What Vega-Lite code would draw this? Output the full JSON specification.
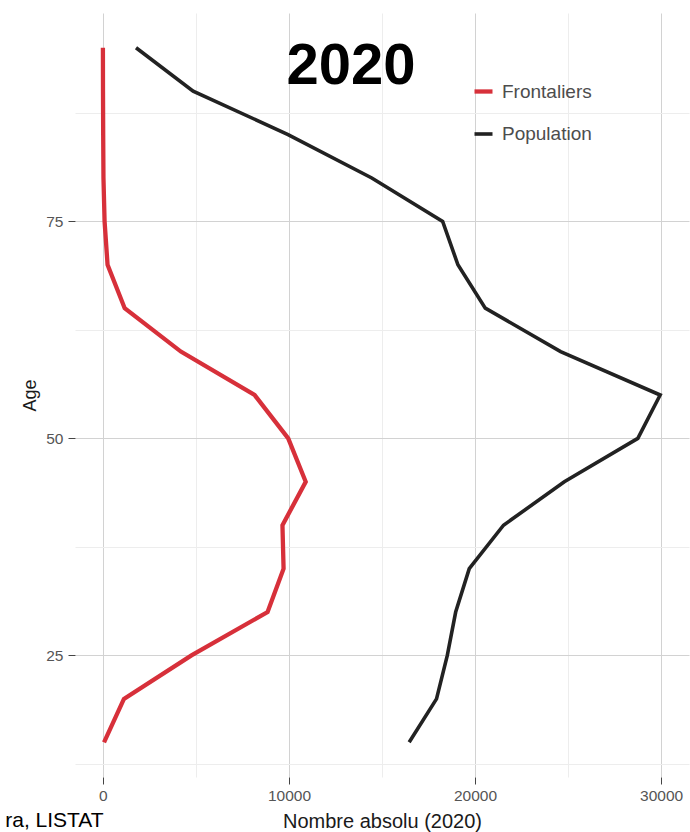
{
  "$schema": "https://vega.github.io/schema/vega-lite/v6.json",
  "width": 614,
  "height": 764,
  "autosize": {"type": "none"},
  "padding": {"left": 75, "top": 13, "right": 1, "bottom": 55},
  "background": "white",
  "config": {
    "view": {"stroke": null},
    "font": "Liberation Sans"
  },
  "datasets": {
    "series": [
      {"age": 15, "serie": "Frontaliers", "n": 60},
      {"age": 20, "serie": "Frontaliers", "n": 1130},
      {"age": 25, "serie": "Frontaliers", "n": 4760},
      {"age": 30, "serie": "Frontaliers", "n": 8850},
      {"age": 35, "serie": "Frontaliers", "n": 9710},
      {"age": 40, "serie": "Frontaliers", "n": 9650},
      {"age": 45, "serie": "Frontaliers", "n": 10900},
      {"age": 50, "serie": "Frontaliers", "n": 9960},
      {"age": 55, "serie": "Frontaliers", "n": 8150},
      {"age": 60, "serie": "Frontaliers", "n": 4190},
      {"age": 65, "serie": "Frontaliers", "n": 1170},
      {"age": 70, "serie": "Frontaliers", "n": 250},
      {"age": 75, "serie": "Frontaliers", "n": 90},
      {"age": 80, "serie": "Frontaliers", "n": 30},
      {"age": 85, "serie": "Frontaliers", "n": 15},
      {"age": 90, "serie": "Frontaliers", "n": 5},
      {"age": 95, "serie": "Frontaliers", "n": 0},
      {"age": 15, "serie": "Population", "n": 16460},
      {"age": 20, "serie": "Population", "n": 17930},
      {"age": 25, "serie": "Population", "n": 18510},
      {"age": 30, "serie": "Population", "n": 18960},
      {"age": 35, "serie": "Population", "n": 19690},
      {"age": 40, "serie": "Population", "n": 21530},
      {"age": 45, "serie": "Population", "n": 24800},
      {"age": 50, "serie": "Population", "n": 28750},
      {"age": 55, "serie": "Population", "n": 29950},
      {"age": 60, "serie": "Population", "n": 24600},
      {"age": 65, "serie": "Population", "n": 20550},
      {"age": 70, "serie": "Population", "n": 19080},
      {"age": 75, "serie": "Population", "n": 18260},
      {"age": 80, "serie": "Population", "n": 14450},
      {"age": 85, "serie": "Population", "n": 9950},
      {"age": 90, "serie": "Population", "n": 4850},
      {"age": 95, "serie": "Population", "n": 1780}
    ],
    "titre": [{"label": "2020"}],
    "source": [{"label": "ra, LISTAT"}]
  },
  "layer": [
    {
      "data": {"name": "series"},
      "mark": {"type": "line", "strokeCap": "butt", "strokeJoin": "miter"},
      "encoding": {
        "x": {
          "field": "n",
          "type": "quantitative",
          "scale": {"domain": [-1500, 31500], "nice": false, "zero": false},
          "axis": {
            "title": "Nombre absolu (2020)",
            "values": [0, 5000, 10000, 15000, 20000, 25000, 30000],
            "labelExpr": "datum.value % 10000 === 0 ? datum.value : ''",
            "format": "d",
            "grid": true,
            "gridColor": {"condition": {"test": "datum.value % 10000 === 0", "value": "#d2d2d2"}, "value": "#ededed"},
            "gridWidth": 1,
            "domain": false,
            "ticks": true,
            "tickColor": {"condition": {"test": "datum.value % 10000 === 0", "value": "#444444"}, "value": "transparent"},
            "tickSize": 7,
            "tickWidth": 1,
            "labelFontSize": 15.5,
            "labelColor": "#555555",
            "labelPadding": 4,
            "labelFlush": false,
            "titleFontSize": 20,
            "titleFontWeight": "normal",
            "titleColor": "#1a1a1a",
            "titlePadding": 8
          }
        },
        "y": {
          "field": "age",
          "type": "quantitative",
          "scale": {"domain": [11, 99], "nice": false, "zero": false},
          "axis": {
            "title": "Age",
            "values": [12.5, 25, 37.5, 50, 62.5, 75, 87.5],
            "labelExpr": "datum.value % 25 === 0 ? datum.value : ''",
            "grid": true,
            "gridColor": {"condition": {"test": "datum.value % 25 === 0", "value": "#d2d2d2"}, "value": "#ededed"},
            "gridWidth": 1,
            "domain": false,
            "ticks": true,
            "tickColor": {"condition": {"test": "datum.value % 25 === 0", "value": "#444444"}, "value": "transparent"},
            "tickSize": 7,
            "tickWidth": 1,
            "labelFontSize": 15.5,
            "labelColor": "#555555",
            "labelPadding": 5,
            "labelFlush": false,
            "titleFontSize": 18,
            "titleFontWeight": "normal",
            "titleColor": "#1a1a1a",
            "titlePadding": 6
          }
        },
        "order": {"field": "age", "type": "quantitative"},
        "color": {
          "field": "serie",
          "type": "nominal",
          "scale": {"domain": ["Frontaliers", "Population"], "range": ["#d7303a", "#222222"]},
          "legend": {
            "title": null,
            "orient": "none",
            "legendX": 397,
            "legendY": 67,
            "padding": 0,
            "symbolType": "stroke",
            "symbolSize": 324,
            "symbolStrokeWidth": 4,
            "labelFontSize": 19,
            "labelColor": "#4d4d4d",
            "labelOffset": 7,
            "rowPadding": 21
          }
        },
        "strokeWidth": {
          "field": "serie",
          "type": "nominal",
          "scale": {"domain": ["Frontaliers", "Population"], "range": [4.3, 3.6]},
          "legend": null
        }
      }
    },
    {
      "data": {"name": "titre"},
      "mark": {"type": "text", "font": "Liberation Sans", "fontWeight": "bold", "fontSize": 58, "align": "center", "baseline": "alphabetic", "color": "black"},
      "encoding": {
        "x": {"datum": 13330, "type": "quantitative"},
        "y": {"datum": 90.8, "type": "quantitative"},
        "text": {"field": "label"}
      }
    },
    {
      "data": {"name": "source"},
      "mark": {"type": "text", "font": "Liberation Sans", "fontSize": 21, "align": "left", "baseline": "alphabetic", "color": "black", "clip": false},
      "encoding": {
        "x": {"datum": -5250, "type": "quantitative"},
        "y": {"datum": 5.2, "type": "quantitative"},
        "text": {"field": "label"}
      }
    }
  ]
}
